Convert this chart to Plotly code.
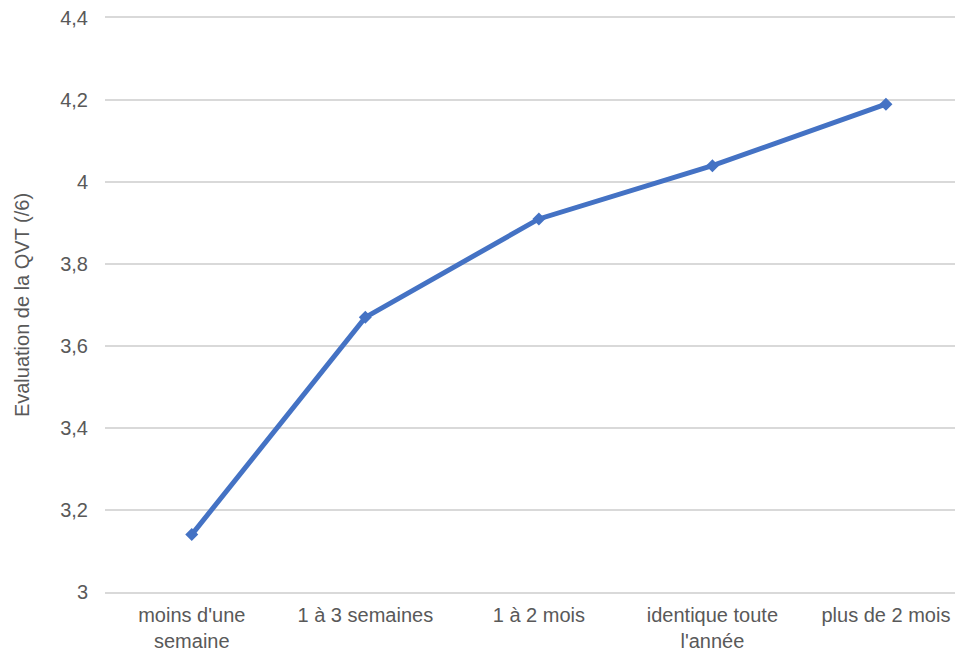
import plotly.graph_objects as go

categories = ["moins d'une<br>semaine", "1 à 3 semaines", "1 à 2 mois", "identique toute<br>l'année", "plus de 2 mois"]
values = [3.14, 3.67, 3.91, 4.04, 4.19]
y_ticks = [3, 3.2, 3.4, 3.6, 3.8, 4, 4.2, 4.4]
y_tick_labels = ["3", "3,2", "3,4", "3,6", "3,8", "4", "4,2", "4,4"]

fig = go.Figure()
fig.add_trace(go.Scatter(
    x=categories, y=values, mode="lines+markers",
    line=dict(color="#4472C4", width=5),
    marker=dict(symbol="diamond", size=10, color="#4472C4"),
    showlegend=False,
))

font_color = "#595959"
fig.update_layout(
    width=963, height=652,
    margin=dict(l=97, r=0, t=10, b=68),
    paper_bgcolor="white", plot_bgcolor="white",
    font=dict(family="Liberation Sans, Arial, sans-serif", size=20, color=font_color),
)
fig.update_xaxes(
    type="category", range=[-0.5, 4.49],
    showgrid=False, showline=True, mirror=True, linecolor="#d9d9d9", linewidth=1.5,
    ticks="", ticklabelstandoff=4, tickfont=dict(size=20, color=font_color),
)
fig.update_yaxes(
    range=[3, 4.4002], tickvals=y_ticks, ticktext=y_tick_labels,
    showgrid=True, gridcolor="#d9d9d9", gridwidth=1.5, zeroline=False,
    ticks="", ticklabelstandoff=16, ticklabeloverflow="allow",
    title=dict(text="Evaluation de la QVT (/6)", font=dict(size=20, color=font_color), standoff=25),
)
fig.write_html("out.html")
